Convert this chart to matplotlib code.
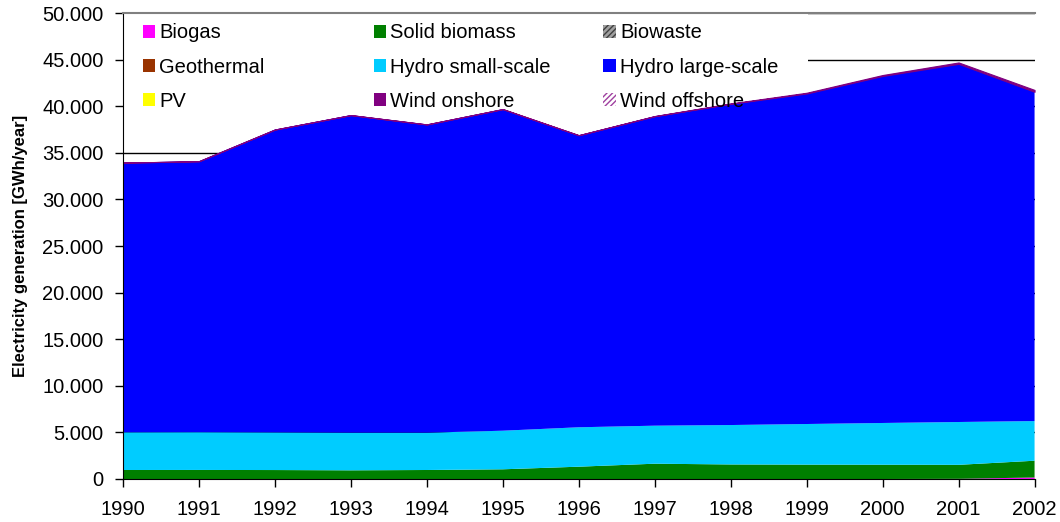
import matplotlib
matplotlib.use("Agg")
import matplotlib.pyplot as plt
from matplotlib.patches import Patch, Rectangle
from matplotlib.legend import Legend
from matplotlib.ticker import FuncFormatter, MultipleLocator

plt.rcParams['font.family'] = ['Liberation Sans', 'DejaVu Sans']
plt.rcParams['hatch.linewidth'] = 1.0

years = [1990, 1991, 1992, 1993, 1994, 1995, 1996, 1997, 1998, 1999, 2000, 2001, 2002]
series_names = ["Biogas", "Solid biomass", "Biowaste", "Geothermal", "Hydro small-scale",
                "Hydro large-scale", "PV", "Wind onshore", "Wind offshore"]

biogas        = [0, 0, 0, 0, 0, 0, 0, 0, 0, 0, 0, 20, 160]
solid_biomass = [965, 970, 960, 930, 965, 1040, 1320, 1640, 1560, 1540, 1530, 1500, 1800]
biowaste      = [0, 0, 0, 0, 0, 0, 0, 0, 0, 0, 0, 0, 0]
geothermal    = [0, 0, 0, 0, 0, 0, 0, 0, 0, 0, 0, 0, 0]
hydro_small   = [4045, 4050, 4040, 4040, 4005, 4140, 4230, 4080, 4230, 4360, 4480, 4595, 4255]
hydro_large   = [28940, 29080, 32500, 34080, 33080, 34510, 31340, 33210, 34470, 35470, 37240, 38435, 35335]
pv            = [0, 0, 0, 0, 0, 0, 0, 0, 0, 0, 0, 0, 0]
wind_onshore  = [0, 0, 0, 0, 0, 10, 10, 20, 40, 80, 100, 150, 200]
wind_offshore = [0, 0, 0, 0, 0, 0, 0, 0, 0, 0, 0, 0, 0]

colors = ["#FF00FF", "#008000", "#808080", "#993300", "#00CCFF",
          "#0000FF", "#FFFF00", "#800080", "#CC99CC"]

fig = plt.figure(figsize=(10.6, 5.22), dpi=100)
ax = fig.add_axes([0.116, 0.0824, 0.86, 0.8926])

stack = [biogas, solid_biomass, biowaste, geothermal, hydro_small,
         hydro_large, pv, wind_onshore, wind_offshore]
polys = ax.stackplot(years, *stack, colors=colors, linewidth=0, zorder=2)
polys[7].set_edgecolor("#800080")
polys[7].set_linewidth(0.8)

ax.set_xlim(1990, 2002)
ax.set_ylim(0, 50000)
ax.yaxis.set_major_locator(MultipleLocator(5000))
ax.yaxis.set_major_formatter(FuncFormatter(lambda v, p: f"{int(round(v)):,}".replace(",", ".")))
ax.set_xticks(years)
ax.set_xticklabels([str(y) for y in years])
ax.tick_params(axis='both', labelsize=14.5, direction='out', length=6, width=1, colors='black')
ax.tick_params(axis='x', pad=9)
ax.tick_params(axis='y', pad=8)
ax.grid(axis='y', color='black', linewidth=1, zorder=0)
ax.set_axisbelow(True)

ax.spines['right'].set_visible(False)
ax.spines['top'].set_color('#808080')
ax.spines['top'].set_linewidth(1.5)
ax.spines['left'].set_color('black')
ax.spines['bottom'].set_color('black')

ax.set_ylabel("Electricity generation [GWh/year]", fontsize=12, fontweight='bold', labelpad=10)

# white legend background block (behind the areas, above the gridlines)
ax.add_patch(Rectangle((0.0, 0.785), 0.752, 0.215, transform=ax.transAxes,
                       facecolor='white', edgecolor='none', zorder=1))

handles = []
for name, c in zip(series_names, colors):
    if name == "Biowaste":
        h = Patch(facecolor='#A0A0A0', edgecolor='#404040', hatch='//////', linewidth=0, label=name)
    elif name == "Wind offshore":
        h = Patch(facecolor='white', edgecolor='#A040A0', hatch='//////', linewidth=0, label=name)
    else:
        h = Patch(facecolor=c, edgecolor='none', label=name)
    handles.append(h)

col_x = [0.0219, 0.275, 0.527]
for ci in range(3):
    hs = [handles[ci], handles[ci + 3], handles[ci + 6]]
    leg = Legend(ax, hs, [h.get_label() for h in hs], loc='upper left',
                 bbox_to_anchor=(col_x[ci], 0.978), frameon=False, fontsize=14.5,
                 handlelength=0.62, handleheight=0.62, handletextpad=0.2,
                 labelspacing=0.76, borderpad=0.0, borderaxespad=0.0)
    leg.set_zorder(4)
    ax.add_artist(leg)

fig.savefig("out.png", dpi=100)
